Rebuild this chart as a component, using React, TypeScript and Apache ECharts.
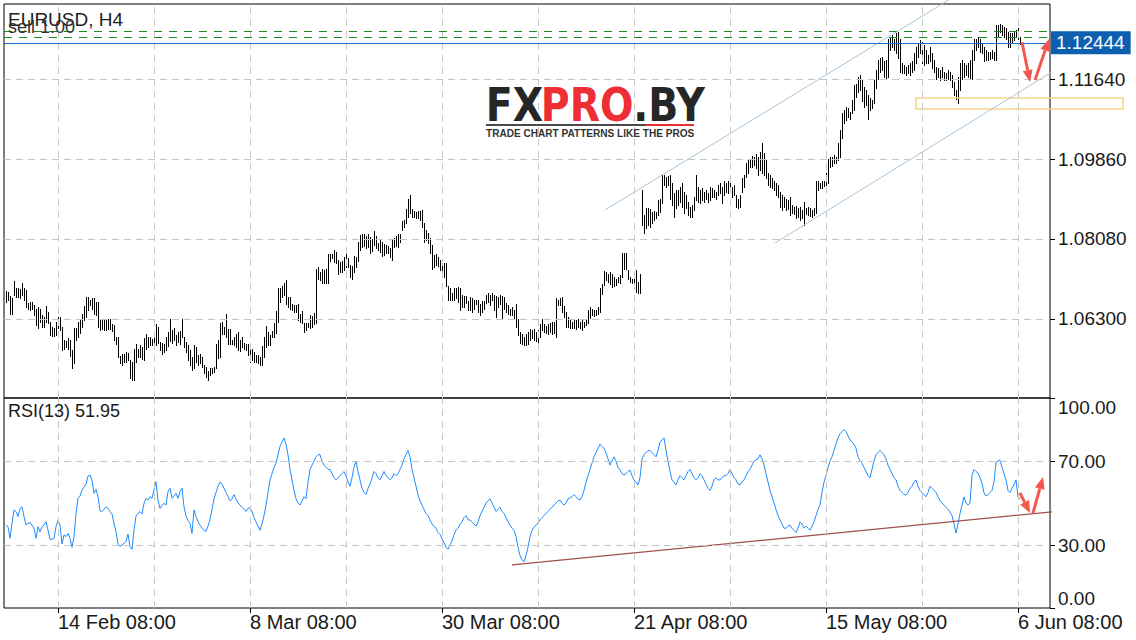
import React, { useEffect, useRef } from 'react';
import * as echarts from 'echarts';

const FONT = '"Liberation Sans", Arial, sans-serif';

const BAR_HIGH = [
1.0692,1.0690,1.0681,1.0676,1.0714,1.0699,1.0698,1.0696,1.0709,1.0700,
1.0694,1.0666,1.0668,1.0667,1.0662,1.0653,1.0657,1.0653,1.0639,1.0635,
1.0658,1.0646,1.0624,1.0612,1.0609,1.0624,1.0635,1.0635,1.0612,1.0583,
1.0581,1.0587,1.0583,1.0561,1.0609,1.0609,1.0624,1.0627,1.0641,1.0658,
1.0678,1.0679,1.0673,1.0676,1.0676,1.0668,1.0668,1.0631,1.0629,1.0627,
1.0631,1.0631,1.0629,1.0618,1.0616,1.0590,1.0589,1.0547,1.0552,1.0553,
1.0556,1.0555,1.0538,1.0535,1.0564,1.0574,1.0564,1.0572,1.0568,1.0587,
1.0596,1.0589,1.0589,1.0585,1.0604,1.0618,1.0612,1.0579,1.0577,1.0575,
1.0589,1.0601,1.0629,1.0605,1.0609,1.0594,1.0601,1.0604,1.0629,1.0590,
1.0579,1.0572,1.0561,1.0546,1.0572,1.0568,1.0549,1.0553,1.0546,1.0527,
1.0524,1.0515,1.0520,1.0522,1.0524,1.0574,1.0584,1.0621,1.0624,1.0612,
1.0641,1.0607,1.0607,1.0583,1.0590,1.0596,1.0601,1.0583,1.0590,1.0577,
1.0575,1.0574,1.0562,1.0564,1.0557,1.0549,1.0549,1.0546,1.0569,1.0590,
1.0614,1.0601,1.0594,1.0604,1.0620,1.0648,1.0698,1.0698,1.0703,1.0709,
1.0716,1.0679,1.0678,1.0663,1.0661,1.0661,1.0663,1.0642,1.0648,1.0621,
1.0620,1.0621,1.0639,1.0636,1.0644,1.0742,1.0746,1.0735,1.0742,1.0739,
1.0742,1.0774,1.0774,1.0774,1.0783,1.0780,1.0762,1.0757,1.0759,1.0767,
1.0774,1.0765,1.0750,1.0748,1.0770,1.0767,1.0802,1.0817,1.0819,1.0819,
1.0814,1.0820,1.0813,1.0809,1.0826,1.0814,1.0798,1.0805,1.0802,1.0797,
1.0794,1.0792,1.0787,1.0805,1.0811,1.0814,1.0820,1.0819,1.0848,1.0851,
1.0874,1.0896,1.0906,1.0874,1.0871,1.0869,1.0871,1.0871,1.0872,1.0843,
1.0828,1.0822,1.0811,1.0794,1.0772,1.0774,1.0767,1.0761,1.0757,1.0755,
1.0754,1.0703,1.0698,1.0688,1.0698,1.0700,1.0702,1.0700,1.0683,1.0681,
1.0681,1.0670,1.0678,1.0676,1.0673,1.0673,1.0673,1.0663,1.0670,1.0670,
1.0683,1.0687,1.0683,1.0688,1.0683,1.0681,1.0678,1.0683,1.0681,1.0679,
1.0666,1.0661,1.0653,1.0657,1.0650,1.0663,1.0631,1.0601,1.0596,1.0590,
1.0596,1.0601,1.0607,1.0605,1.0607,1.0601,1.0605,1.0618,1.0629,1.0618,
1.0614,1.0618,1.0621,1.0624,1.0624,1.0676,1.0673,1.0676,1.0678,1.0658,
1.0646,1.0635,1.0629,1.0624,1.0629,1.0627,1.0629,1.0624,1.0627,1.0624,
1.0631,1.0650,1.0657,1.0653,1.0650,1.0651,1.0657,1.0700,1.0708,1.0737,
1.0735,1.0730,1.0735,1.0730,1.0724,1.0720,1.0724,1.0728,1.0777,1.0777,
1.0777,1.0739,1.0724,1.0720,1.0718,1.0739,1.0713,1.0730,1.0917,1.0861,
1.0876,1.0876,1.0874,1.0869,1.0871,1.0867,1.0895,1.0898,1.0950,1.0950,
1.0947,1.0948,1.0950,1.0932,1.0910,1.0917,1.0918,1.0924,1.0932,1.0913,
1.0906,1.0891,1.0880,1.0884,1.0902,1.0950,1.0924,1.0917,1.0921,1.0913,
1.0917,1.0911,1.0924,1.0921,1.0917,1.0913,1.0928,1.0932,1.0924,1.0936,
1.0932,1.0936,1.0932,1.0924,1.0928,1.0906,1.0898,1.0906,1.0943,1.0950,
1.0976,1.0987,1.0984,1.0993,1.0991,1.0997,1.0991,1.1002,1.1021,1.0999,
1.0987,1.0954,1.0950,1.0943,1.0936,1.0932,1.0928,1.0913,1.0906,1.0902,
1.0898,1.0895,1.0902,1.0884,1.0880,1.0881,1.0876,1.0880,1.0872,1.0891,
1.0876,1.0880,1.0876,1.0872,1.0876,1.0936,1.0936,1.0933,1.0936,1.0936,
1.0954,1.0987,1.0991,1.0991,1.0995,1.0991,1.1021,1.1050,1.1088,1.1095,
1.1102,1.1099,1.1091,1.1117,1.1151,1.1154,1.1169,1.1173,1.1162,1.1147,
1.1140,1.1128,1.1121,1.1117,1.1162,1.1184,1.1206,1.1210,1.1214,1.1203,
1.1206,1.1254,1.1258,1.1262,1.1254,1.1266,1.1269,1.1254,1.1199,1.1195,
1.1191,1.1195,1.1199,1.1203,1.1221,1.1236,1.1243,1.1251,1.1247,1.1240,
1.1228,1.1217,1.1236,1.1221,1.1206,1.1191,1.1188,1.1184,1.1190,1.1180,
1.1177,1.1184,1.1180,1.1173,1.1158,1.1140,1.1169,1.1199,1.1206,1.1199,
1.1195,1.1199,1.1206,1.1228,1.1252,1.1254,1.1258,1.1254,1.1243,1.1236,
1.1228,1.1225,1.1223,1.1228,1.1225,1.1284,1.1284,1.1286,1.1284,1.1280,
1.1277,1.1269,1.1266,1.1266,1.1269,1.1273,1.1277,1.1258
];

const BAR_LOW = [
1.0668,1.0672,1.0642,1.0642,1.0683,1.0679,1.0679,1.0676,1.0683,1.0672,
1.0656,1.0653,1.0650,1.0653,1.0639,1.0616,1.0609,1.0624,1.0612,1.0612,
1.0624,1.0620,1.0594,1.0592,1.0592,1.0594,1.0609,1.0605,1.0561,1.0564,
1.0568,1.0564,1.0548,1.0521,1.0532,1.0583,1.0590,1.0598,1.0612,1.0627,
1.0635,1.0650,1.0661,1.0653,1.0642,1.0639,1.0612,1.0605,1.0607,1.0605,
1.0605,1.0607,1.0607,1.0604,1.0583,1.0575,1.0546,1.0531,1.0527,1.0535,
1.0535,1.0538,1.0498,1.0494,1.0495,1.0535,1.0546,1.0546,1.0542,1.0538,
1.0564,1.0568,1.0572,1.0572,1.0568,1.0572,1.0577,1.0561,1.0553,1.0557,
1.0561,1.0569,1.0581,1.0577,1.0584,1.0572,1.0579,1.0575,1.0590,1.0568,
1.0557,1.0538,1.0527,1.0516,1.0520,1.0535,1.0527,1.0531,1.0524,1.0509,
1.0501,1.0495,1.0505,1.0510,1.0512,1.0520,1.0544,1.0546,1.0596,1.0596,
1.0590,1.0575,1.0575,1.0575,1.0572,1.0568,1.0561,1.0559,1.0568,1.0564,
1.0561,1.0549,1.0535,1.0538,1.0535,1.0535,1.0531,1.0527,1.0527,1.0546,
1.0568,1.0572,1.0572,1.0589,1.0589,1.0598,1.0624,1.0668,1.0678,1.0683,
1.0664,1.0657,1.0653,1.0650,1.0646,1.0646,1.0627,1.0624,1.0620,1.0601,
1.0605,1.0612,1.0609,1.0612,1.0618,1.0620,1.0720,1.0716,1.0709,1.0709,
1.0709,1.0709,1.0759,1.0765,1.0757,1.0754,1.0731,1.0735,1.0735,1.0739,
1.0746,1.0745,1.0724,1.0720,1.0735,1.0745,1.0759,1.0783,1.0791,1.0792,
1.0787,1.0791,1.0777,1.0782,1.0794,1.0787,1.0783,1.0780,1.0770,1.0772,
1.0777,1.0776,1.0767,1.0761,1.0791,1.0792,1.0791,1.0802,1.0828,1.0834,
1.0844,1.0856,1.0865,1.0857,1.0856,1.0854,1.0854,1.0851,1.0835,1.0802,
1.0805,1.0799,1.0777,1.0742,1.0745,1.0750,1.0748,1.0739,1.0731,1.0724,
1.0703,1.0673,1.0672,1.0673,1.0673,1.0676,1.0668,1.0650,1.0657,1.0656,
1.0666,1.0650,1.0650,1.0646,1.0653,1.0663,1.0646,1.0639,1.0646,1.0653,
1.0666,1.0668,1.0661,1.0672,1.0651,1.0635,1.0657,1.0663,1.0631,1.0653,
1.0646,1.0642,1.0639,1.0639,1.0631,1.0612,1.0594,1.0577,1.0575,1.0572,
1.0572,1.0575,1.0583,1.0587,1.0584,1.0581,1.0579,1.0590,1.0605,1.0601,
1.0599,1.0596,1.0601,1.0596,1.0598,1.0590,1.0661,1.0661,1.0646,1.0635,
1.0612,1.0612,1.0611,1.0609,1.0609,1.0607,1.0612,1.0609,1.0605,1.0612,
1.0616,1.0620,1.0633,1.0639,1.0636,1.0639,1.0642,1.0646,1.0685,1.0705,
1.0716,1.0713,1.0708,1.0702,1.0703,1.0705,1.0713,1.0709,1.0724,1.0742,
1.0742,1.0718,1.0713,1.0710,1.0710,1.0690,1.0687,1.0687,1.0839,1.0822,
1.0832,1.0839,1.0834,1.0843,1.0850,1.0854,1.0861,1.0869,1.0887,1.0928,
1.0924,1.0928,1.0898,1.0884,1.0858,1.0876,1.0884,1.0891,1.0880,1.0865,
1.0876,1.0861,1.0858,1.0858,1.0872,1.0895,1.0891,1.0887,1.0895,1.0891,
1.0898,1.0891,1.0895,1.0902,1.0902,1.0898,1.0906,1.0910,1.0887,1.0906,
1.0913,1.0910,1.0913,1.0902,1.0906,1.0880,1.0876,1.0880,1.0913,1.0924,
1.0947,1.0954,1.0969,1.0969,1.0973,1.0965,1.0950,1.0962,1.0954,1.0950,
1.0943,1.0928,1.0924,1.0921,1.0917,1.0906,1.0902,1.0880,1.0872,1.0880,
1.0872,1.0874,1.0861,1.0865,1.0864,1.0854,1.0856,1.0850,1.0854,1.0839,
1.0864,1.0861,1.0859,1.0858,1.0861,1.0865,1.0917,1.0921,1.0921,1.0926,
1.0928,1.0932,1.0969,1.0970,1.0976,1.0978,1.0984,1.0991,1.1032,1.1065,
1.1073,1.1080,1.1076,1.1088,1.1095,1.1125,1.1136,1.1140,1.1114,1.1102,
1.1106,1.1076,1.1095,1.1099,1.1110,1.1143,1.1165,1.1180,1.1184,1.1169,
1.1165,1.1169,1.1228,1.1236,1.1228,1.1221,1.1210,1.1180,1.1177,1.1177,
1.1173,1.1177,1.1173,1.1180,1.1184,1.1199,1.1214,1.1221,1.1199,1.1195,
1.1199,1.1199,1.1203,1.1188,1.1180,1.1165,1.1169,1.1162,1.1169,1.1162,
1.1162,1.1165,1.1162,1.1147,1.1128,1.1119,1.1111,1.1140,1.1165,1.1169,
1.1173,1.1169,1.1165,1.1165,1.1206,1.1228,1.1236,1.1225,1.1221,1.1203,
1.1206,1.1206,1.1208,1.1210,1.1206,1.1206,1.1258,1.1269,1.1262,1.1258,
1.1254,1.1236,1.1236,1.1247,1.1251,1.1258,1.1254,1.1243
];

const RSI = [
39.5,38.7,33.2,40.3,46.7,45.9,43.5,47.4,48.2,43.5,
39.5,40.3,40.6,39.5,37.9,33.2,38.7,36.3,38.7,39.5,
41.1,37.1,32.7,32.7,33.2,38.7,41.6,39.5,30.5,34.8,
34.0,35.5,33.2,28.9,34.0,45.1,52.2,53.3,56.2,57.5,
59.0,62.8,63.3,60.9,54.6,56.5,53.0,46.3,45.9,47.0,
48.2,47.4,45.9,44.8,40.3,36.3,30.5,29.2,30.0,30.8,
31.6,35.2,29.2,27.9,37.1,43.8,45.1,45.9,44.8,49.8,
52.2,51.4,53.0,52.2,56.2,60.1,51.4,47.4,49.0,49.8,
49.0,55.4,57.0,52.2,53.3,54.6,52.2,55.4,57.0,48.2,
43.8,41.6,40.3,35.5,46.7,43.5,41.1,
39.5,38,37,36.5,39,42,47,52,55,58,
60,59,57,55,53,51,52,54,52,50,
49,48,47,46,47.5,47.6,46,43,41,39,
37,40,44,49,55,61,64,67,69,73,
77,79,81,78,73,66,61,56,52,50,
49,51,53,52,60,66,68,70,72,73,
73,70,68,67,66,66,64,62,61,62,
63,64,65,63,60,58,62,67,70,65,
61,57,55,54,57,59,62,65,64,62,
61,63,65,63,62,61,62,64,63,64,
66,68,71,73,75,72,66,62,58,54,
51,49,47,45,44,42,40,39,38,36,
35,33,31,29,28,30,32,35,37,38,
40,41,43,44,42,41.9,41,40,39,41,
44,46,48,50,51,52,50,48,46,47,
48,46,45,43,41,39.5,38,37,34,29,
25,23,22,25,29,34,37,38.5,39.5,40.5,
42,43,44,45,46,47,48,49,50,51,
51.4,50,49,50,52,52.4,53,54,53,52,
51.4,53,56,60,63,66,69,72,74,76,
78,77,76,74,71,68,70,72,70,67,
65.7,64,63.3,64,65,65.7,63,61,60,58.6,
62,71,73,74,75,75,74,73,72,75,
79,80,81,75,70,65,61,60,58.6,61,
63,62,61,63,65,66,64,62,61,62,
64,63,61,59,57,56,58,61,62,61,
61,62,63,63,64,66,64,62,61,59,
58.6,60,61,63,65,66,68,70,70.5,71,
73,71,68,64,60,56,53,50,47,44,
42,40,38,38,39,39.5,38,37,36,38,
41,40,38,39,38,37,39,41,44,47,
49,55,60,63,67,70,72,75,78,81,
83,84,85,84,82,80,79,78,76,72,
70,69,67,65,63,62,66,70,73,74,
75,74,73,71,68,66,64,62,61,58,
56,55,54,53.8,55,57,58,60,61,58,
56,55,54,53,55,58,57,56,55,53,
51,50,49,48,47,45.7,44,40,35.7,40,
45,49,52.9,50,49,50,63,66,65,64.3,
62,59.5,54.8,53.3,54,55,56,60,69.5,70,
70.5,67,64,61,56,55,57,58.6,61,53,51.95
];

const PRICE_TICKS = [1.063, 1.0808, 1.0986, 1.1164];
const RSI_TICKS = [0, 30, 70, 100];
const RSI_LEVELS = [30, 70];
const DATE_TICK_BARS = [26, 122, 218, 314, 410, 506];
const DATE_LABELS = ['14 Feb 08:00', '8 Mar 08:00', '30 Mar 08:00', '21 Apr 08:00', '15 May 08:00', '6 Jun 08:00'];
const GRID_BARS = [26, 74, 122, 170, 218, 266, 314, 362, 410, 458, 506];
const LAST_PRICE = 1.12444;
const ORDER_LINES = [1.12701, 1.12568];
const RSI_LAST = 51.95;
const CHANNEL_UPPER = [[299.5, 1.08725], [477, 1.13553]];
const CHANNEL_LOWER = [[384.5, 1.07991], [565, 1.12953]];
const RSI_TREND = [[253, 20.5], [537, 47.1]];
const ZONE = [[455, 1.11217, 558.5, 1.10973]];
const PRICE_ARROWS = [[508, 1.12463, 512, 1.11573], [514.5, 1.11618, 521.5, 1.1253]];
const RSI_ARROWS = [[507, 54.8, 512, 45.2], [513.5, 45.2, 518.5, 62.4]];

const X_MIN = -1;
const X_MAX = 522;
const PRICE_MIN = 1.04542;
const PRICE_MAX = 1.13309;

const ARROW_COLOR = '#f4574d';

function arrowItem(_p: any, api: any) {
  const a = api.coord([api.value(0), api.value(1)]);
  const b = api.coord([api.value(2), api.value(3)]);
  const dx = b[0] - a[0];
  const dy = b[1] - a[1];
  const len = Math.hypot(dx, dy) || 1;
  const ux = dx / len;
  const uy = dy / len;
  const hl = 12;
  const hw = 5;
  const bx = b[0] - ux * hl;
  const by = b[1] - uy * hl;
  return {
    type: 'group',
    children: [
      { type: 'line', shape: { x1: a[0], y1: a[1], x2: bx, y2: by }, style: { stroke: ARROW_COLOR, lineWidth: 3 } },
      {
        type: 'polygon',
        shape: { points: [[b[0], b[1]], [bx - uy * hw, by + ux * hw], [bx + uy * hw, by - ux * hw]] },
        style: { fill: ARROW_COLOR },
      },
    ],
  };
}

export default function App() {
  const ref = useRef<HTMLDivElement>(null);
  useEffect(() => {
    if (!ref.current) return;
    const chart = echarts.init(ref.current, null, { renderer: 'svg' });
    const barData = BAR_HIGH.map((h, i) => [i, BAR_LOW[i], h]);
    const rsiData = RSI.map((v, i) => [i, v]);
    const gridLine = { color: '#c6c6c6', width: 1, type: [7, 5] };
    const option: any = {
      animation: false,
      backgroundColor: '#ffffff',
      grid: [
        { left: 4, top: 4, width: 1046, height: 394, show: true, borderColor: '#000', borderWidth: 1, backgroundColor: 'transparent' },
        { left: 4, top: 398, width: 1046, height: 210, show: true, borderColor: '#000', borderWidth: 1, backgroundColor: 'transparent' },
      ],
      xAxis: [
        { type: 'value', gridIndex: 0, min: X_MIN, max: X_MAX, show: false, axisLine: { onZero: false } },
        {
          type: 'value', gridIndex: 1, min: X_MIN, max: X_MAX,
          axisLine: { show: false, onZero: false }, splitLine: { show: false },
          axisTick: { show: true, customValues: DATE_TICK_BARS, length: 5, lineStyle: { color: '#000' } },
          axisLabel: {
            customValues: DATE_TICK_BARS,
            formatter: (v: number) => { const k = DATE_TICK_BARS.indexOf(v); return k >= 0 ? DATE_LABELS[k] : ''; },
            align: 'left', fontSize: 20, fontFamily: FONT, color: '#1a1a1a', margin: 4,
          },
        },
      ],
      yAxis: [
        {
          type: 'value', gridIndex: 0, position: 'right', min: PRICE_MIN, max: PRICE_MAX, scale: true,
          axisLine: { show: false, onZero: false }, splitLine: { show: false },
          axisTick: { show: true, customValues: PRICE_TICKS, length: 5, lineStyle: { color: '#000' } },
          axisLabel: { customValues: PRICE_TICKS, formatter: (v: number) => v.toFixed(5), fontSize: 19, fontFamily: FONT, color: '#1a1a1a', margin: 8 },
        },
        {
          type: 'value', gridIndex: 1, position: 'right', min: 0, max: 100,
          axisLine: { show: false, onZero: false }, splitLine: { show: false },
          axisTick: { show: true, customValues: RSI_TICKS, length: 5, lineStyle: { color: '#000' } },
          axisLabel: {
            customValues: RSI_TICKS, formatter: (v: number) => v.toFixed(2), fontSize: 19, fontFamily: FONT, color: '#1a1a1a', margin: 8,
            verticalAlignMaxLabel: 'top', verticalAlignMinLabel: 'bottom',
          },
        },
      ],
      graphic: [
        { type: 'text', x: 8, y: 19, z: 20, style: { text: 'EURUSD, H4', fontSize: 19, fontFamily: FONT, fill: '#222', verticalAlign: 'middle' } },
        { type: 'text', x: 8, y: 26.5, z: 20, style: { text: 'sell 1.00', fontSize: 18, fontFamily: FONT, fill: '#333', verticalAlign: 'middle' } },
        { type: 'text', x: 8, y: 411, z: 20, style: { text: 'RSI(13) ' + RSI_LAST.toFixed(2), fontSize: 18, fontFamily: FONT, fill: '#1a1a1a', verticalAlign: 'middle' } },
        { type: 'text', x: 485.7, y: 104.5, scaleX: 0.84, z: 20, style: { text: 'FX', fontSize: 47, fontWeight: 'bold', fontFamily: '"DejaVu Sans"', fill: '#262626', verticalAlign: 'middle' } },
        { type: 'text', x: 540.7, y: 104.5, scaleX: 0.84, z: 20, style: { text: 'PRO', fontSize: 47, fontWeight: 'bold', fontFamily: '"DejaVu Sans"', fill: '#ee2e35', verticalAlign: 'middle' } },
        { type: 'text', x: 633.3, y: 104.5, scaleX: 0.84, z: 20, style: { text: '.BY', fontSize: 47, fontWeight: 'bold', fontFamily: '"DejaVu Sans"', fill: '#262626', verticalAlign: 'middle' } },
        { type: 'line', z: 20, shape: { x1: 486, y1: 125, x2: 646, y2: 125 }, style: { stroke: '#4a4a4a', lineWidth: 2 } },
        { type: 'line', z: 20, shape: { x1: 646, y1: 125, x2: 694, y2: 125 }, style: { stroke: '#e8312e', lineWidth: 2 } },
        { type: 'text', x: 486, y: 133.5, scaleX: 0.96, z: 20, style: { text: 'TRADE CHART PATTERNS LIKE THE PROS', fontSize: 10.5, fontWeight: 'bold', fontFamily: FONT, fill: '#333', verticalAlign: 'middle' } },
      ],
      series: [
        {
          type: 'line', xAxisIndex: 0, yAxisIndex: 0, data: [], silent: true, z: 1,
          markLine: {
            silent: true, precision: 6, symbol: ['none', 'none'], label: { show: false }, lineStyle: gridLine, animation: false,
            data: [...GRID_BARS.map((b) => ({ xAxis: b })), ...PRICE_TICKS.map((p) => ({ yAxis: p }))],
          },
        },
        {
          type: 'line', xAxisIndex: 1, yAxisIndex: 1, data: [], silent: true, z: 1,
          markLine: {
            silent: true, precision: 6, symbol: ['none', 'none'], label: { show: false }, lineStyle: gridLine, animation: false,
            data: [...GRID_BARS.map((b) => ({ xAxis: b })), ...RSI_LEVELS.map((p) => ({ yAxis: p }))],
          },
        },
        {
          type: 'line', xAxisIndex: 0, yAxisIndex: 0, data: [], silent: true, z: 3, color: '#1a8a1a',
          markLine: {
            silent: true, precision: 6, symbol: ['none', 'none'], animation: false, label: { show: false },
            lineStyle: { color: '#1a8a1a', width: 1.2, type: [8, 7], opacity: 1 },
            data: ORDER_LINES.map((p) => ({ yAxis: p })),
          },
        },
        {
          type: 'line', xAxisIndex: 0, yAxisIndex: 0, data: [], silent: true, z: 3, color: '#1a6fcc',
          markLine: {
            silent: true, precision: 6, symbol: ['none', 'none'], animation: false,
            lineStyle: { color: '#1a6fcc', width: 1.2, type: 'solid', opacity: 1 },
            label: {
              show: true, position: 'end', formatter: LAST_PRICE.toFixed(5), color: '#fff', backgroundColor: '#0d5fb0',
              padding: [2, 6, 2, 5], fontSize: 19, fontFamily: FONT, distance: 1,
            },
            data: [{ yAxis: LAST_PRICE }],
          },
        },
        {
          type: 'custom', xAxisIndex: 0, yAxisIndex: 0, data: barData, z: 2, silent: true,
          encode: { x: 0, y: [1, 2] },
          renderItem: (_p: any, api: any) => {
            const top = api.coord([api.value(0), api.value(2)]);
            const bot = api.coord([api.value(0), api.value(1)]);
            const x = Math.floor(top[0]) + 0.5;
            return { type: 'line', shape: { x1: x, y1: Math.round(top[1]), x2: x, y2: Math.round(bot[1]) + 1 }, style: { stroke: '#000', lineWidth: 1 } };
          },
        },
        {
          type: 'line', xAxisIndex: 0, yAxisIndex: 0, data: CHANNEL_UPPER, clip: false, symbol: 'none', silent: true, z: 4,
          lineStyle: { color: '#a9c4d8', width: 1 },
        },
        {
          type: 'line', xAxisIndex: 0, yAxisIndex: 0, data: CHANNEL_LOWER, clip: false, symbol: 'none', silent: true, z: 4,
          lineStyle: { color: '#a9c4d8', width: 1 },
        },
        {
          type: 'custom', xAxisIndex: 0, yAxisIndex: 0, data: ZONE, clip: false, silent: true, z: 4,
          renderItem: (_p: any, api: any) => {
            const a = api.coord([api.value(0), api.value(1)]);
            const b = api.coord([api.value(2), api.value(3)]);
            return { type: 'rect', shape: { x: a[0], y: a[1], width: b[0] - a[0], height: b[1] - a[1] }, style: { fill: 'rgba(255,255,255,0)', stroke: '#f6d48a', lineWidth: 1.5 } };
          },
        },
        {
          type: 'custom', xAxisIndex: 0, yAxisIndex: 0, data: PRICE_ARROWS, clip: false, silent: true, z: 10, renderItem: arrowItem,
        },
        {
          type: 'line', xAxisIndex: 1, yAxisIndex: 1, data: rsiData, symbol: 'none', silent: true, z: 3,
          lineStyle: { color: '#1e8cff', width: 1 },
        },
        {
          type: 'line', xAxisIndex: 1, yAxisIndex: 1, data: RSI_TREND, clip: false, symbol: 'none', silent: true, z: 4,
          lineStyle: { color: '#a0504c', width: 1.2 },
        },
        {
          type: 'custom', xAxisIndex: 1, yAxisIndex: 1, data: RSI_ARROWS, clip: false, silent: true, z: 10, renderItem: arrowItem,
        },
      ],
    };
    chart.setOption(option);
    return () => chart.dispose();
  }, []);
  return (
    <div
      ref={ref}
      style={{ position: 'fixed', left: 0, top: 0, width: 1136, height: 640, background: '#fff' }}
    />
  );
}
